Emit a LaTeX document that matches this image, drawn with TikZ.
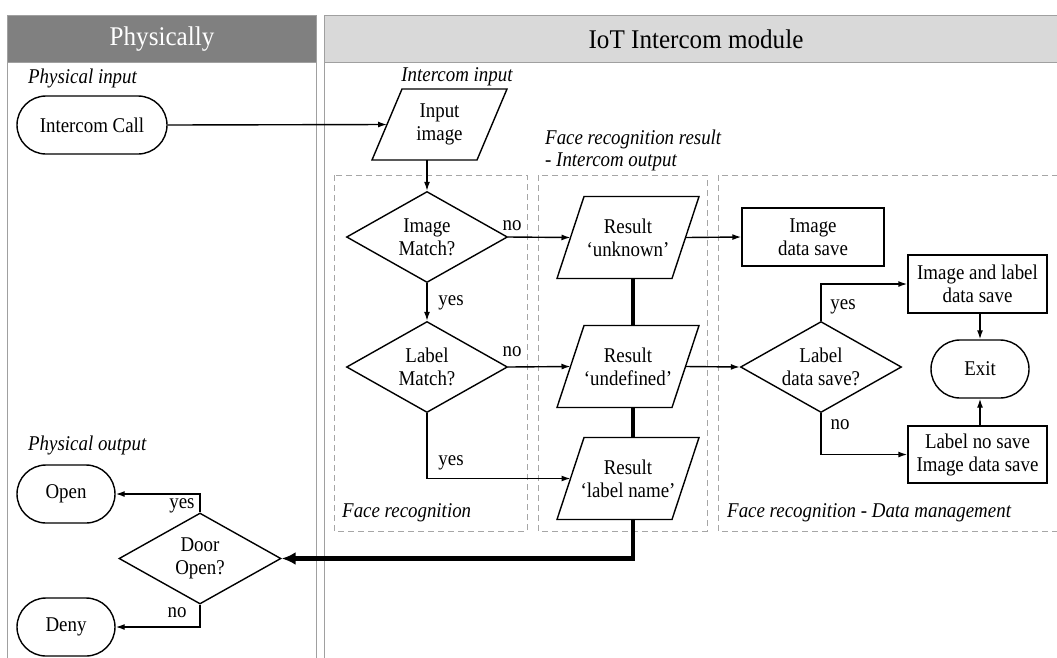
\documentclass[tikz,border=0pt]{standalone}
\usepackage{fontspec}
\setmainfont{Liberation Serif}[FakeStretch=0.9]
\newfontfamily\headfont{Liberation Serif}[FakeStretch=0.93]
\usetikzlibrary{shapes.geometric,shapes.misc,arrows.meta}
\definecolor{laneline}{HTML}{A0A0A0}
\definecolor{headdark}{HTML}{808080}
\definecolor{headlight}{HTML}{D9D9D9}
\definecolor{dashgray}{HTML}{A6A6A6}

% parallelogram drawn around an invisible rectangular node
\newcommand{\slantbox}[2]{%
  \draw[flow] ([xshift=#2]#1.north west) -- (#1.north east)
    -- ([xshift=-#2]#1.south east) -- (#1.south west) -- cycle;}

\begin{document}
\begin{tikzpicture}[x=1pt,y=-1pt,
  font=\fontsize{21}{23}\selectfont,
  flow/.style={line width=1.4pt},
  arr/.style={flow,-{Latex[length=9pt,width=6pt]}},
  bigline/.style={line width=4.5pt},
  bigarr/.style={line width=4.5pt,-{Latex[length=14pt,width=13pt]}},
  terminal/.style={draw,line width=1.4pt,rounded rectangle,minimum width=#1,
    minimum height=58,inner sep=0,align=center},
  decision/.style={draw,line width=1.4pt,diamond,aspect=1.77,inner sep=0,
    minimum width=161,minimum height=91,align=center},
  process/.style={draw,line width=1.4pt,rectangle,minimum width=#1,
    minimum height=58,inner sep=0,align=center},
  slantnode/.style={rectangle,minimum width=142,minimum height=82,inner sep=0,
    outer sep=0,align=center},
  note/.style={font=\fontsize{21}{23}\selectfont\itshape,anchor=west,inner sep=0},
  lbl/.style={inner sep=0},
  headtext/.style={font=\headfont\fontsize{27}{30}\selectfont},
  lanehead/.style={draw=laneline,line width=0.8pt},
  laneborder/.style={draw=laneline,line width=0.8pt},
  zone/.style={draw=dashgray,line width=1pt,dash pattern=on 6pt off 4pt}
]
\useasboundingbox[fill=white] (0,0) rectangle (1057,657);

% swimlanes
\path[lanehead,fill=headdark] (7,15) rectangle (316,62);
\node[headtext,text=white] (lanephys) at (162,39) {Physically};
\path[lanehead,fill=headlight] (324,15) rectangle (1060,62);
\node[headtext] (laneiot) at (696,39) {IoT Intercom module};
\draw[laneborder] (7,62) -- (7,660);
\draw[laneborder] (316,62) -- (316,660);
\draw[laneborder] (324,62) -- (324,660);

% dashed zones
\draw[zone] (334,175) rectangle (527,531);
\draw[zone] (538,175) rectangle (707,531);
\draw[zone] (718,175) rectangle (1062,531);

% zone titles
\node[note] (tphysin) at (28,78) {Physical input};
\node[note] (tphysout) at (28,445) {Physical output};
\node[note,anchor=center] (tinput) at (457,77) {Intercom input};
\node[note] (tresult) at (545,139) {Face recognition result};
\node[note] (tresult2) at (545,162) {- Intercom output};
\node[note] (tface) at (342,513) {Face recognition};
\node[note] (tdata) at (727,513) {Face recognition - Data management};

% physical side
\node[terminal=150] (call) at (92,125) {Intercom Call};
\node[terminal=98] (open) at (66,494) {Open};
\node[terminal=98] (deny) at (66,627) {Deny};
\node[decision,minimum width=162] (door) at (200,558.5) {Door\\Open?};

% intercom module
\node[slantnode,minimum width=135,minimum height=71] (inp) at (439.5,124.5) {Input\\image};
\slantbox{inp}{30}
\node[decision] (imgmatch) at (427,237) {Image\\Match?};
\node[decision] (labmatch) at (427,367) {Label\\Match?};

\node[slantnode] (unknown) at (628,237.5) {Result\\‘unknown’};
\slantbox{unknown}{27}
\node[slantnode] (undef) at (628,366.5) {Result\\‘undefined’};
\slantbox{undef}{27}
\node[slantnode] (lname) at (628,478.5) {Result\\‘label name’};
\slantbox{lname}{27}

\node[process=142] (imgsave) at (813,237) {Image\\data save};
\node[decision] (labsave) at (821,367) {Label\\data save?};
\node[process=139] (both) at (977.5,284) {Image and label\\data save};
\node[terminal=98] (exit) at (980,369) {Exit};
\node[process=139,minimum height=57] (nosave) at (977.5,454.5) {Label no save\\Image data save};

% connectors
\draw[arr] (call.east) -- ([xshift=15]inp.west);
\draw[arr] (imgmatch.north |- inp.south) -- (imgmatch.north);
\draw[arr] (imgmatch.east) -- ([xshift=13.5]unknown.west);
\node[lbl] (no1) at (512,226) {no};
\draw[arr] (imgmatch.south) -- (labmatch.north);
\node[lbl] (yes1) at (451,303) {yes};
\draw[arr] (labmatch.east) -- ([xshift=13.5]undef.west);
\node[lbl] (no2) at (512,352) {no};
\draw[arr] (labmatch.south) |- ([xshift=13.5]lname.west);
\node[lbl] (yes2) at (451,463) {yes};

\draw[arr] ([xshift=-13.5]unknown.east) -- (imgsave.west);
\draw[arr] ([xshift=-13.5]undef.east) -- (labsave.west);
\draw[arr] (labsave.north) |- (both.west);
\node[lbl] (yes3) at (843,307) {yes};
\draw[arr] (labsave.south) |- (nosave.west);
\node[lbl] (no3) at (840,425) {no};
\draw[arr] (exit.north |- both.south) -- (exit.north);
\draw[arr] (exit.south |- nosave.north) -- (exit.south);

\draw[bigline] ([xshift=5]unknown.south) -- ([xshift=5]undef.north);
\draw[bigline] ([xshift=5]undef.south) -- ([xshift=5]lname.north);
\draw[bigarr] ([xshift=5]lname.south) |- (door.east);

\draw[arr] (door.north) |- (open.east);
\node[lbl] (yes4) at (182,506) {yes};
\draw[arr] (door.south) |- (deny.east);
\node[lbl] (no4) at (177,613) {no};
\end{tikzpicture}
\end{document}
